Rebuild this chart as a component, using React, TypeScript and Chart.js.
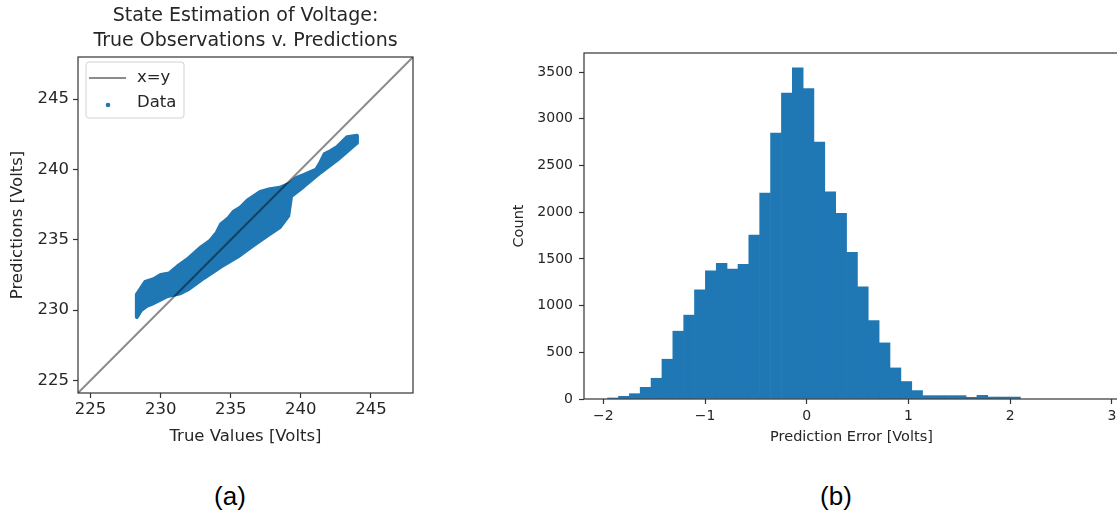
import React, { useEffect, useRef } from 'react';
import { Chart, registerables } from 'chart.js';

Chart.register(...registerables);

const FONT = "'DejaVu Sans', sans-serif";
const BLUE = '#1f77b4';
const TEXT = '#262626';
const FRAME = '#333333';

// ---------- left panel: state estimation scatter ----------
const titleLines = ['State Estimation of Voltage:', 'True Observations v. Predictions'];
const leftXLabel = 'True Values [Volts]';
const leftYLabel = 'Predictions [Volts]';
const voltTicks = [225, 230, 235, 240, 245];
const voltRange = [224.1, 248.0];

// x = y reference line
const identityX = [224.1, 248.0];
const identityY = [224.1, 248.0];

// outline of the dense data cloud, upper edge (left -> right)
const cloudUpperX = [228.3, 228.9, 229.5, 230.0, 230.6, 231.2, 231.9, 232.8, 233.5, 234.0, 234.3, 234.8, 235.2, 235.7, 236.2, 237.1, 237.8, 238.5, 239.2, 239.7, 240.2, 241.1, 241.4, 241.7, 242.1, 242.6, 243.3, 244.0];
const cloudUpperY = [231.1, 232.0, 232.2, 232.5, 232.6, 233.1, 233.6, 234.4, 234.9, 235.5, 236.1, 236.5, 237.0, 237.3, 237.8, 238.4, 238.6, 238.7, 239.0, 239.4, 239.6, 240.0, 240.5, 241.1, 241.3, 241.6, 242.3, 242.4];
// lower edge (right -> left)
const cloudLowerX = [244.0, 243.3, 242.6, 241.4, 240.2, 239.3, 239.1, 238.5, 237.6, 236.6, 235.5, 234.3, 233.1, 232.0, 231.4, 230.5, 229.5, 229.0, 228.6, 228.3];
const cloudLowerY = [241.9, 241.3, 240.7, 239.8, 238.8, 238.1, 236.7, 235.9, 235.3, 234.6, 233.8, 233.1, 232.3, 231.5, 231.2, 231.0, 230.5, 230.3, 230.0, 229.5];

// ---------- right panel: histogram of prediction error ----------
const rightXLabel = 'Prediction Error [Volts]';
const rightYLabel = 'Count';
const errTicks = [-2, -1, 0, 1, 2, 3];
const countTicks = [0, 500, 1000, 1500, 2000, 2500, 3000, 3500];
const errRange = [-2.19, 3.07];
const countMax = 3705;
const binWidth = 0.1068;
const binLeft = [
  -1.958, -1.851, -1.744, -1.638, -1.531, -1.424, -1.317, -1.210, -1.104, -0.997,
  -0.890, -0.783, -0.676, -0.570, -0.463, -0.356, -0.249, -0.142, -0.036, 0.071,
  0.178, 0.285, 0.392, 0.498, 0.605, 0.712, 0.819, 0.926, 1.032, 1.139,
  1.246, 1.353, 1.460, 1.566, 1.673, 1.780, 1.887, 1.994,
];
const binCounts = [
  11, 29, 57, 125, 222, 426, 726, 898, 1170, 1373,
  1452, 1391, 1441, 1756, 2204, 2848, 3277, 3545, 3323, 2751,
  2218, 1989, 1571, 1202, 841, 601, 333, 187, 90, 36,
  36, 36, 36, 18, 39, 21, 21, 21,
];

const minusFmt = (v: any) => String(v).replace('-', '\u2212');

const framePlugin = {
  id: 'frame',
  afterDraw(chart: any) {
    const { ctx, chartArea: a } = chart;
    ctx.save();
    ctx.strokeStyle = FRAME;
    ctx.lineWidth = 1.2;
    ctx.strokeRect(a.left, a.top, a.right - a.left, a.bottom - a.top);
    ctx.restore();
  },
};

const titlePlugin = {
  id: 'twoLineTitle',
  afterDraw(chart: any) {
    const { ctx, chartArea: a } = chart;
    ctx.save();
    ctx.fillStyle = TEXT;
    ctx.font = `19px ${FONT}`;
    ctx.textAlign = 'center';
    ctx.textBaseline = 'alphabetic';
    const cx = (a.left + a.right) / 2;
    ctx.fillText(titleLines[0], cx, a.top - 36.5);
    ctx.fillText(titleLines[1], cx, a.top - 11);
    ctx.restore();
  },
};

const legendPlugin = {
  id: 'boxLegend',
  afterDraw(chart: any) {
    const { ctx, chartArea: a } = chart;
    const ds = chart.data.datasets;
    const x0 = a.left + 8;
    const y0 = a.top + 5;
    const w = 98;
    const h = 56;
    const r = 3;
    ctx.save();
    ctx.beginPath();
    ctx.moveTo(x0 + r, y0);
    ctx.lineTo(x0 + w - r, y0);
    ctx.quadraticCurveTo(x0 + w, y0, x0 + w, y0 + r);
    ctx.lineTo(x0 + w, y0 + h - r);
    ctx.quadraticCurveTo(x0 + w, y0 + h, x0 + w - r, y0 + h);
    ctx.lineTo(x0 + r, y0 + h);
    ctx.quadraticCurveTo(x0, y0 + h, x0, y0 + h - r);
    ctx.lineTo(x0, y0 + r);
    ctx.quadraticCurveTo(x0, y0, x0 + r, y0);
    ctx.closePath();
    ctx.fillStyle = 'rgba(255,255,255,0.85)';
    ctx.fill();
    ctx.strokeStyle = '#d2d2d2';
    ctx.lineWidth = 1;
    ctx.stroke();

    ctx.strokeStyle = ds[0].borderColor;
    ctx.lineWidth = 2;
    ctx.beginPath();
    ctx.moveTo(x0 + 3, y0 + 16);
    ctx.lineTo(x0 + 40, y0 + 16);
    ctx.stroke();

    ctx.fillStyle = BLUE;
    ctx.beginPath();
    ctx.arc(x0 + 22, y0 + 43, 2.3, 0, Math.PI * 2);
    ctx.fill();

    ctx.fillStyle = TEXT;
    ctx.font = `16.5px ${FONT}`;
    ctx.textAlign = 'left';
    ctx.textBaseline = 'middle';
    ctx.fillText(ds[0].label, x0 + 51, y0 + 16);
    ctx.fillText(ds[1].label, x0 + 51, y0 + 41);
    ctx.restore();
  },
};

function axisCommon(size: number, pad: number) {
  return {
    ticks: {
      font: { family: FONT, size },
      color: TEXT,
      padding: pad,
      autoSkip: false,
      maxRotation: 0,
      callback: minusFmt,
    },
    grid: {
      drawOnChartArea: false,
      drawTicks: true,
      tickLength: 5,
      tickColor: FRAME,
      tickWidth: 1.2,
      offset: false,
    },
    border: { display: false },
  };
}

function leftConfig(): any {
  const cloud = [
    ...cloudUpperX.map((x, i) => ({ x, y: cloudUpperY[i] })),
    ...cloudLowerX.map((x, i) => ({ x, y: cloudLowerY[i] })),
    { x: cloudUpperX[0], y: cloudUpperY[0] },
  ];
  return {
    type: 'scatter',
    data: {
      datasets: [
        {
          label: 'x=y',
          data: identityX.map((x, i) => ({ x, y: identityY[i] })),
          showLine: true,
          borderColor: 'rgba(0,0,0,0.45)',
          borderWidth: 2,
          pointRadius: 0,
          fill: false,
        },
        {
          label: 'Data',
          data: cloud,
          showLine: true,
          borderColor: BLUE,
          backgroundColor: BLUE,
          borderWidth: 4,
          borderJoinStyle: 'round',
          borderCapStyle: 'round',
          pointRadius: 0,
          fill: 'shape',
        },
      ],
    },
    options: {
      responsive: false,
      animation: false,
      layout: { padding: { left: 0, top: 57, right: 27, bottom: 0 } },
      plugins: { legend: { display: false }, tooltip: { enabled: false } },
      scales: {
        x: {
          type: 'linear',
          min: voltRange[0],
          max: voltRange[1],
          afterBuildTicks: (s: any) => { s.ticks = voltTicks.map((v) => ({ value: v })); },
          afterFit: (s: any) => { s.height = 67; },
          ...axisCommon(16.5, 2),
          title: {
            display: true,
            text: leftXLabel,
            font: { family: FONT, size: 16.5 },
            color: TEXT,
            padding: { top: 0, bottom: 13 },
          },
        },
        y: {
          type: 'linear',
          min: voltRange[0],
          max: voltRange[1],
          afterBuildTicks: (s: any) => { s.ticks = voltTicks.map((v) => ({ value: v })); },
          afterFit: (s: any) => { s.width = 78; },
          ...axisCommon(16.5, 4),
          title: {
            display: true,
            text: leftYLabel,
            font: { family: FONT, size: 16.5 },
            color: TEXT,
            padding: { top: 7.5, bottom: 0 },
          },
        },
      },
    },
    plugins: [framePlugin, titlePlugin, legendPlugin],
  };
}

function rightConfig(): any {
  return {
    type: 'bar',
    data: {
      datasets: [
        {
          label: rightYLabel,
          data: binLeft.map((e, i) => ({ x: e + binWidth / 2, y: binCounts[i] })),
          backgroundColor: BLUE,
          borderWidth: 0,
          barPercentage: 1,
          categoryPercentage: 1,
        },
      ],
    },
    options: {
      responsive: false,
      animation: false,
      layout: { padding: { left: 0, top: 53, right: 21, bottom: 0 } },
      plugins: { legend: { display: false }, tooltip: { enabled: false } },
      scales: {
        x: {
          type: 'linear',
          min: errRange[0],
          max: errRange[1],
          offset: false,
          afterBuildTicks: (s: any) => { s.ticks = errTicks.map((v) => ({ value: v })); },
          afterFit: (s: any) => { s.height = 61; },
          ...axisCommon(14, 4),
          title: {
            display: true,
            text: rightXLabel,
            font: { family: FONT, size: 14.5 },
            color: TEXT,
            padding: { top: 0, bottom: 14 },
          },
        },
        y: {
          type: 'linear',
          min: 0,
          max: countMax,
          afterBuildTicks: (s: any) => { s.ticks = countTicks.map((v) => ({ value: v })); },
          afterFit: (s: any) => { s.width = 84; },
          ...axisCommon(14, 6),
          title: {
            display: true,
            text: rightYLabel,
            font: { family: FONT, size: 14.5 },
            color: TEXT,
            padding: { top: 11, bottom: 0 },
          },
        },
      },
    },
    plugins: [framePlugin],
  };
}

const captionStyle = (cx: number): React.CSSProperties => ({
  position: 'absolute',
  left: cx,
  top: 496,
  transform: 'translate(-50%, -50%)',
  fontFamily: "'Liberation Sans', Arial, sans-serif",
  fontSize: 26,
  lineHeight: 1,
  color: '#000',
  whiteSpace: 'nowrap',
});

export default function App() {
  const leftRef = useRef<HTMLCanvasElement>(null);
  const rightRef = useRef<HTMLCanvasElement>(null);

  useEffect(() => {
    document.body.style.margin = '0';
    const c1 = new Chart(leftRef.current as HTMLCanvasElement, leftConfig());
    const c2 = new Chart(rightRef.current as HTMLCanvasElement, rightConfig());
    return () => {
      c1.destroy();
      c2.destroy();
    };
  }, []);

  return (
    <div
      style={{
        position: 'fixed',
        left: 0,
        top: 0,
        width: 1117,
        height: 517,
        overflow: 'hidden',
        background: '#fff',
      }}
    >
      <canvas
        ref={leftRef}
        width={440}
        height={460}
        style={{ position: 'absolute', left: 0, top: 0, width: 440, height: 460 }}
      />
      <canvas
        ref={rightRef}
        width={640}
        height={460}
        style={{ position: 'absolute', left: 500, top: 0, width: 640, height: 460 }}
      />
      <div style={captionStyle(230)}>(a)</div>
      <div style={captionStyle(836)}>(b)</div>
    </div>
  );
}
